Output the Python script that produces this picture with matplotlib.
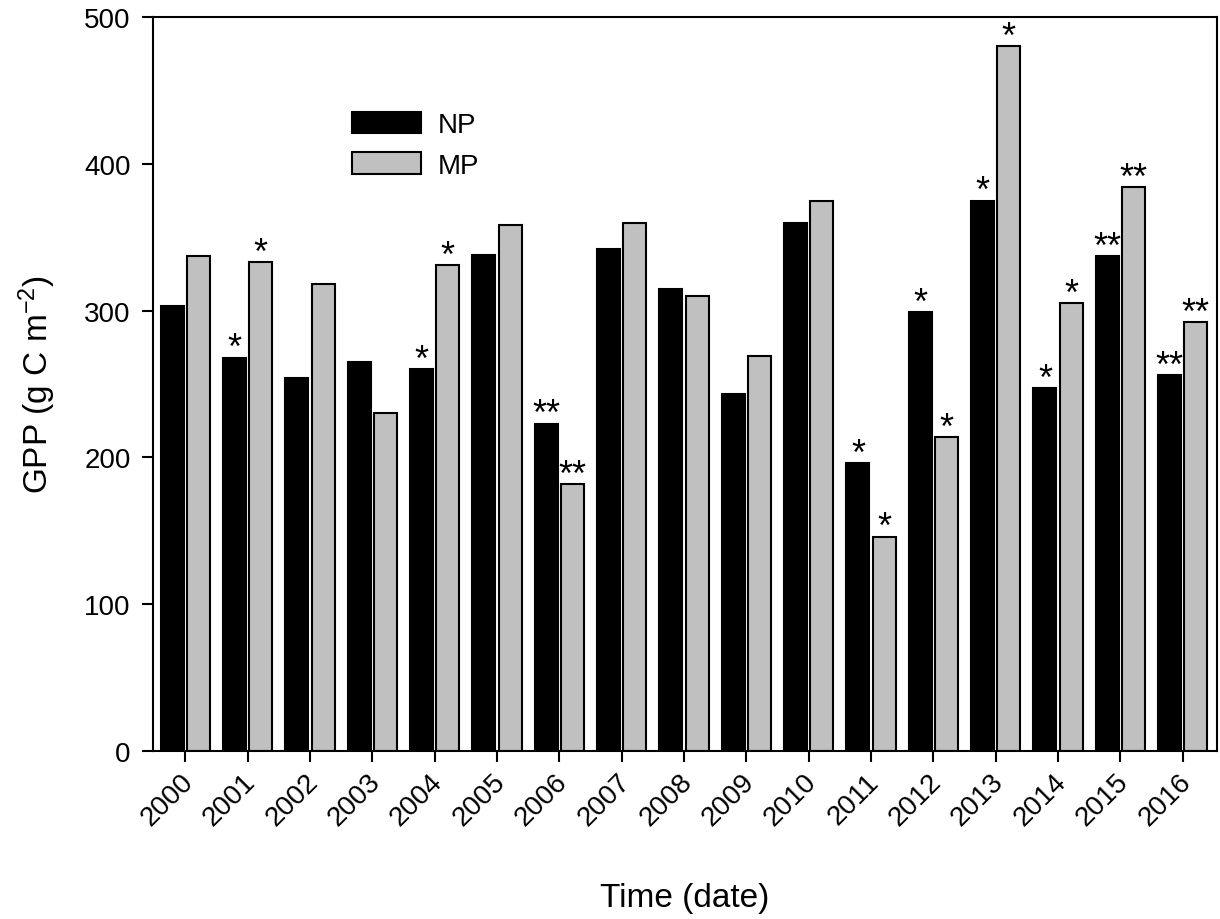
import matplotlib
matplotlib.use("Agg")
import matplotlib.pyplot as plt
import matplotlib.transforms as mtransforms
import numpy as np

plt.rcParams["font.family"] = ["Liberation Sans", "DejaVu Sans"]
plt.rcParams["mathtext.fontset"] = "custom"
plt.rcParams["mathtext.rm"] = "Liberation Sans"
plt.rcParams["mathtext.it"] = "Liberation Sans:italic"

years = ["2000", "2001", "2002", "2003", "2004", "2005", "2006", "2007", "2008",
         "2009", "2010", "2011", "2012", "2013", "2014", "2015", "2016"]
np_vals = [303, 268, 254, 265, 260, 338, 223, 342, 315, 243, 360, 196, 299, 375, 247, 337, 256]
mp_vals = [337, 333, 318, 230, 331, 358, 182, 360, 310, 269, 375, 146, 214, 480, 305, 384, 292]
np_sig = ["", "*", "", "", "*", "", "**", "", "", "", "", "*", "*", "*", "*", "**", "**"]
mp_sig = ["", "*", "", "", "*", "", "**", "", "", "", "", "*", "*", "*", "*", "**", "**"]

fig = plt.figure(figsize=(12.2, 9.2), dpi=100)
ax = fig.add_axes([0.1254, 0.1826, 0.8721, 0.7978])

x = np.arange(len(years))
w = 0.37
off = 0.21
ax.bar(x - off, np_vals, w, color="black", edgecolor="black", linewidth=1.5, label="NP")
ax.bar(x + off, mp_vals, w, color="#c0c0c0", edgecolor="black", linewidth=1.5, label="MP")

# significance stars
for xs, vals, sig in [(x - off, np_vals, np_sig), (x + off, mp_vals, mp_sig)]:
    for xi, v, s in zip(xs, vals, sig):
        if s:
            ax.annotate(s, (xi, v), xytext=(0, -0.5), textcoords="offset points",
                        ha="center", va="baseline", fontsize=26)

ax.set_xlim(-0.52, 16.55)
ax.set_ylim(0, 500)
ax.set_yticks([0, 100, 200, 300, 400, 500])
ax.set_xticks(x)
ax.set_xticklabels(years, rotation=45, ha="right", rotation_mode="anchor")
ax.tick_params(axis="both", direction="out", length=8, width=1.5, labelsize=20, pad=8)
shift = mtransforms.ScaledTranslation(-3.6 / 72, 3.6 / 72, fig.dpi_scale_trans)
for lab in ax.get_xticklabels():
    lab.set_transform(lab.get_transform() + shift)
for sp in ax.spines.values():
    sp.set_linewidth(1.5)

ax.set_ylabel("GPP (g C m$^{-2}$)", fontsize=24, labelpad=19)
ax.set_xlabel("Time (date)", fontsize=24, labelpad=37)

ax.legend(loc="upper left", bbox_to_anchor=(0.187, 0.871), frameon=False,
          fontsize=20, handlelength=2.5, handleheight=0.8, handletextpad=0.6,
          labelspacing=0.52, borderpad=0, borderaxespad=0)

fig.savefig("out.png", dpi=100)
